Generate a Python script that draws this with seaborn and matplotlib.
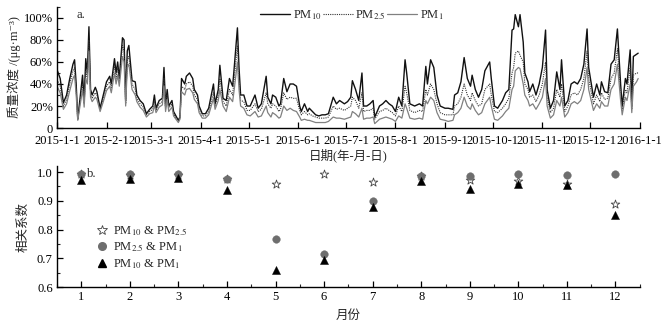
import matplotlib
matplotlib.use('Agg')
import matplotlib.pyplot as plt
import matplotlib.dates as mdates
from matplotlib.ticker import MultipleLocator, FuncFormatter
from matplotlib.lines import Line2D
import pandas as pd
import seaborn as sns

# --- panel a: daily mass concentration (% of scale) ---
days = [0, 2, 4, 6, 8, 10, 11, 12, 13, 15, 16, 17, 18, 19, 20, 21, 22, 24, 25, 27,
        29, 31, 33, 34, 36, 37, 38, 39, 41, 42, 43, 44, 45, 47, 49, 50, 52, 54, 56, 58,
        60, 61, 62, 64, 66, 67, 68, 69, 70, 72, 73, 76, 77, 78, 80, 81, 83, 85, 86, 88,
        89, 91, 93, 95, 98, 99, 101, 102, 104, 106, 108, 110, 111, 113, 114, 115, 117, 119, 121, 124,
        126, 128, 131, 132, 134, 135, 137, 139, 140, 142, 144, 146, 148, 150, 152, 153, 155, 157, 158, 160,
        162, 164, 166, 168, 170, 173, 175, 177, 180, 182, 184, 185, 187, 189, 191, 192, 194, 196, 198, 199,
        202, 204, 206, 208, 210, 212, 214, 216, 218, 219, 221, 224, 227, 229, 231, 232, 234, 236, 238, 240,
        243, 245, 248, 249, 251, 253, 255, 257, 259, 260, 262, 264, 266, 268, 271, 272, 274, 276, 279, 281,
        283, 285, 286, 287, 289, 290, 292, 293, 295, 296, 298, 300, 302, 304, 306, 307, 309, 311, 313, 315,
        316, 318, 320, 322, 324, 326, 328, 330, 332, 333, 336, 338, 340, 341, 343, 345, 347, 349, 351, 353,
        354, 356, 357, 359, 360, 361, 363, 364]
pm10 = [53, 45, 23, 30, 45, 58, 62, 40, 8, 35, 48, 25, 63, 50, 92, 35, 30, 37, 33, 18,
        30, 42, 47, 40, 63, 50, 60, 45, 82, 80, 25, 70, 75, 43, 42, 30, 25, 22, 13, 17,
        20, 30, 18, 25, 27, 55, 20, 35, 20, 25, 15, 7, 10, 45, 40, 47, 50, 45, 35, 30,
        20, 13, 13, 18, 40, 22, 35, 57, 27, 25, 45, 38, 55, 91, 55, 30, 30, 20, 20, 30,
        18, 22, 47, 28, 22, 30, 28, 20, 22, 45, 33, 40, 40, 38, 20, 15, 22, 15, 18, 15,
        12, 11, 12, 12, 13, 28, 22, 25, 22, 24, 28, 43, 35, 25, 50, 20, 20, 22, 25, 10,
        20, 22, 25, 22, 20, 15, 28, 20, 62, 50, 22, 20, 22, 20, 56, 40, 62, 55, 30, 20,
        18, 18, 17, 30, 32, 42, 64, 45, 38, 48, 35, 28, 35, 52, 60, 45, 20, 18, 25, 32,
        35, 89, 90, 103, 92, 103, 78, 50, 42, 33, 40, 30, 40, 55, 89, 35, 18, 25, 51, 35,
        62, 20, 25, 40, 42, 40, 45, 58, 90, 55, 28, 40, 30, 42, 33, 32, 58, 62, 90, 40,
        20, 45, 40, 71, 20, 65, 67, 68]
pm25 = [44, 38, 20, 26, 40, 52, 55, 35, 8, 30, 40, 22, 52, 45, 80, 32, 27, 32, 30, 17,
        27, 38, 42, 36, 57, 45, 55, 42, 75, 70, 22, 62, 65, 40, 35, 27, 22, 19, 12, 15,
        17, 25, 16, 22, 24, 45, 18, 30, 18, 22, 13, 6, 9, 38, 35, 40, 42, 38, 30, 26,
        17, 11, 11, 15, 32, 20, 30, 45, 24, 20, 35, 30, 45, 75, 45, 25, 24, 16, 16, 22,
        15, 17, 32, 22, 18, 22, 20, 15, 17, 32, 26, 28, 27, 27, 16, 12, 15, 12, 13, 11,
        10, 9, 9, 9, 10, 20, 17, 18, 16, 18, 20, 28, 25, 18, 32, 15, 16, 16, 18, 8,
        15, 16, 18, 16, 14, 11, 20, 15, 38, 32, 16, 14, 16, 15, 35, 30, 40, 35, 22, 14,
        12, 12, 12, 20, 22, 28, 40, 30, 25, 32, 25, 20, 22, 35, 40, 30, 15, 14, 18, 22,
        27, 50, 55, 68, 70, 66, 60, 40, 35, 28, 30, 24, 30, 40, 60, 28, 14, 18, 35, 28,
        40, 15, 20, 30, 32, 30, 35, 45, 70, 45, 22, 30, 24, 32, 26, 27, 45, 50, 72, 32,
        16, 35, 32, 55, 17, 48, 50, 50]
pm1 = [38, 32, 17, 22, 34, 45, 48, 30, 7, 26, 35, 19, 45, 40, 70, 28, 24, 28, 26, 15,
       24, 34, 38, 32, 50, 40, 48, 38, 65, 60, 20, 55, 58, 35, 30, 24, 19, 16, 10, 13,
       14, 21, 14, 19, 21, 38, 15, 26, 15, 19, 11, 5, 8, 33, 30, 35, 36, 32, 26, 22,
       14, 9, 9, 12, 27, 17, 25, 35, 20, 15, 28, 24, 35, 60, 35, 20, 18, 12, 11, 15,
       10, 11, 20, 14, 10, 14, 12, 9, 10, 20, 16, 18, 16, 15, 10, 7, 8, 7, 7, 6,
       5, 5, 5, 5, 6, 10, 9, 9, 8, 9, 10, 15, 13, 10, 18, 8, 9, 9, 10, 4,
       8, 9, 10, 9, 8, 6, 11, 9, 22, 18, 9, 8, 9, 8, 25, 22, 28, 25, 14, 8,
       7, 6, 7, 12, 14, 18, 28, 20, 17, 22, 16, 12, 14, 22, 28, 20, 8, 7, 11, 15,
       18, 35, 38, 52, 55, 54, 40, 30, 25, 20, 22, 17, 22, 28, 45, 20, 9, 12, 25, 20,
       28, 10, 14, 22, 24, 22, 25, 35, 55, 35, 16, 22, 18, 24, 20, 20, 35, 40, 58, 25,
       12, 28, 25, 40, 14, 38, 42, 45]

# --- panel b: monthly correlation coefficients ---
months = list(range(1, 13))
r_pm10_pm25 = [0.993, 0.990, 0.990, 0.975, 0.958, 0.994, 0.965, 0.985, 0.973, 0.969, 0.960, 0.890]
r_pm25_pm1 = [0.994, 0.992, 0.992, 0.977, 0.767, 0.714, 0.901, 0.987, 0.985, 0.993, 0.988, 0.993]
r_pm10_pm1 = [0.973, 0.975, 0.978, 0.939, 0.661, 0.695, 0.878, 0.968, 0.942, 0.960, 0.954, 0.852]

sns.set_theme(style='ticks')
plt.rcParams['font.family'] = ['Liberation Serif', 'Noto Sans CJK SC', 'DejaVu Serif']
plt.rcParams['mathtext.fontset'] = 'stix'
plt.rcParams['axes.unicode_minus'] = False

start = pd.Timestamp('2015-01-01')
conc = pd.DataFrame({'date': start + pd.to_timedelta(days, unit='D'),
                     'PM10': pm10, 'PM2.5': pm25, 'PM1': pm1})
corr = pd.DataFrame({'month': months, 's': r_pm10_pm25, 'c': r_pm25_pm1, 't': r_pm10_pm1})

fig = plt.figure(figsize=(6.66, 3.3), dpi=100)
ax1 = fig.add_axes([0.0856, 0.612, 0.875, 0.367])
ax2 = fig.add_axes([0.0856, 0.130, 0.875, 0.367])

fs = 9

# top panel
sns.lineplot(data=conc, x='date', y='PM10', color='#111111', lw=1.0, ax=ax1)
sns.lineplot(data=conc, x='date', y='PM2.5', color='#333333', lw=0.8, ls=(0, (1, 1)), ax=ax1)
sns.lineplot(data=conc, x='date', y='PM1', color='#808080', lw=0.9, ax=ax1)
ax1.set_xlim(pd.Timestamp('2015-01-01'), pd.Timestamp('2016-01-01'))
ax1.set_ylim(0, 110)
ax1.xaxis.set_major_locator(mdates.MonthLocator())
ax1.xaxis.set_major_formatter(FuncFormatter(
    lambda v, p: '{0.year}-{0.month}-{0.day}'.format(mdates.num2date(v))))
ax1.yaxis.set_major_locator(MultipleLocator(20))
ax1.yaxis.set_minor_locator(MultipleLocator(10))
ax1.yaxis.set_major_formatter(FuncFormatter(lambda v, p: '0' if v == 0 else f'{v:.0f}%'))
ax1.set_xlabel('日期(年-月-日)', fontsize=fs, labelpad=1)
ax1.set_ylabel('质量浓度 /(μg·m⁻³)', fontsize=fs, labelpad=2)
ax1.text(0.033, 0.985, 'a.', transform=ax1.transAxes, fontsize=fs, va='top')
h1 = [Line2D([], [], color='#111111', lw=1.0),
      Line2D([], [], color='#333333', lw=0.8, ls=(0, (1, 1))),
      Line2D([], [], color='#808080', lw=0.9)]
ax1.legend(h1, [r'PM$_{10}$', r'PM$_{2.5}$', r'PM$_1$'], loc='center', bbox_to_anchor=(0.506, 0.93),
           ncol=3, frameon=False, fontsize=fs, handlelength=2.4, handletextpad=0.2,
           columnspacing=0.1, borderpad=0)

# bottom panel
sns.scatterplot(data=corr, x='month', y='s', marker='*', s=42, color='white',
                edgecolor='#444444', linewidth=0.6, ax=ax2, zorder=3)
sns.scatterplot(data=corr, x='month', y='c', marker='o', s=30, color='#6e6e6e',
                edgecolor='#6e6e6e', linewidth=0.3, ax=ax2, zorder=4)
sns.scatterplot(data=corr, x='month', y='t', marker='^', s=34, color='black',
                edgecolor='black', linewidth=0.3, ax=ax2, zorder=5)
ax2.set_xlim(0.5, 12.5)
ax2.set_ylim(0.6, 1.021)
ax2.xaxis.set_major_locator(MultipleLocator(1))
ax2.xaxis.set_minor_locator(MultipleLocator(0.5))
ax2.yaxis.set_major_locator(MultipleLocator(0.1))
ax2.yaxis.set_minor_locator(MultipleLocator(0.05))
ax2.yaxis.set_major_formatter(FuncFormatter(lambda v, p: f'{v:.1f}'))
ax2.set_xlabel('月份', fontsize=fs, labelpad=5)
ax2.set_ylabel('相关系数', fontsize=fs, labelpad=5)
ax2.text(0.052, 0.985, 'b.', transform=ax2.transAxes, fontsize=fs, va='top')
h2 = [Line2D([], [], ls='', marker='*', ms=7, mfc='white', mec='#444444', mew=0.6),
      Line2D([], [], ls='', marker='o', ms=5.5, mfc='#6e6e6e', mec='#6e6e6e'),
      Line2D([], [], ls='', marker='^', ms=6, mfc='black', mec='black')]
ax2.legend(h2, [r'PM$_{10}$ & PM$_{2.5}$', r'PM$_{2.5}$ & PM$_1$', r'PM$_{10}$ & PM$_1$'],
           loc='upper left', bbox_to_anchor=(0.055, 0.57), frameon=False, fontsize=fs,
           handlelength=1.0, handletextpad=0.4, labelspacing=0.2, borderpad=0)

for ax in (ax1, ax2):
    sns.despine(ax=ax)
    for sp in ('left', 'bottom'):
        ax.spines[sp].set_linewidth(1.0)
        ax.spines[sp].set_color('black')
    ax.tick_params(which='major', direction='in', length=4, width=0.9, labelsize=fs, pad=3, colors='black')
    ax.tick_params(which='minor', direction='in', length=2.5, width=0.8)
    ax.grid(False)
ax1.tick_params(axis='x', pad=5)

fig.savefig('out.png', dpi=100)
